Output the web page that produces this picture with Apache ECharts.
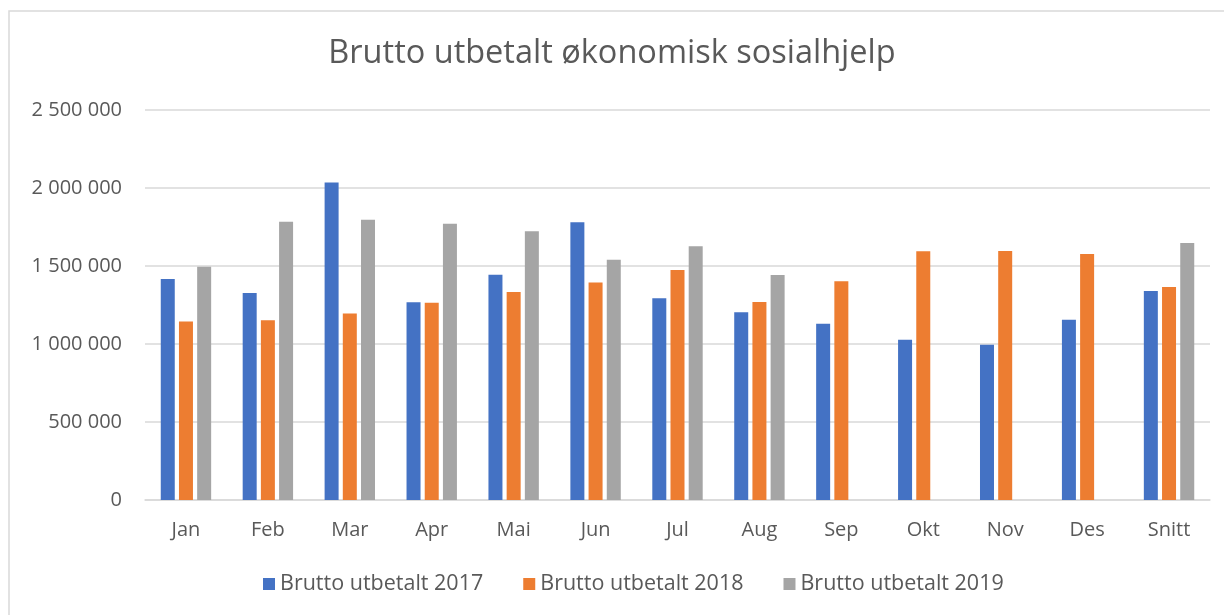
<!DOCTYPE html>
<html>
<head>
<meta charset="utf-8">
<script src="https://cdn.jsdelivr.net/npm/echarts@6/dist/echarts.min.js"></script>
<style>
  html, body { margin: 0; padding: 0; background: #fff; }
  #main { width: 1224px; height: 615px; }
</style>
</head>
<body>
<div id="main"></div>
<script>
var months = ['Jan', 'Feb', 'Mar', 'Apr', 'Mai', 'Jun', 'Jul', 'Aug', 'Sep', 'Okt', 'Nov', 'Des', 'Snitt'];
var brutto2017 = [1416000, 1327000, 2035000, 1267000, 1444000, 1780000, 1293000, 1203000, 1130000, 1027000, 995000, 1155000, 1340000];
var brutto2018 = [1145000, 1153000, 1196000, 1265000, 1333000, 1395000, 1474000, 1269000, 1402000, 1594000, 1596000, 1577000, 1365000];
var brutto2019 = [1495000, 1784000, 1797000, 1771000, 1723000, 1540000, 1626000, 1442000, null, null, null, null, 1648000];
var yTicks = [0, 500000, 1000000, 1500000, 2000000, 2500000];

var myChart = echarts.init(document.getElementById('main'));

// mellomrom som tusenskille
function fmt(v) {
	return String(v).replace(/\B(?=(\d{3})+(?!\d))/g, ' ');
}

var font = 'Open Sans';
var option = {
	backgroundColor : '#fff',
	color : [ '#4472c4', '#ed7d31', '#a5a5a5' ],
	title : {
		text : 'Brutto utbetalt økonomisk sosialhjelp',
		left : 'center',
		top : 32,
		textStyle : {
			fontFamily : font,
			fontSize : 32.5,
			fontWeight : 'normal',
			color : '#595959'
		}
	},
	legend : {
		bottom : 15,
		left : 258,
		itemWidth : 12,
		itemHeight : 12,
		itemGap : 40,
		icon : 'rect',
		textStyle : {
			fontFamily : font,
			fontSize : 21.5,
			color : '#595959'
		},
		data : [ 'Brutto utbetalt 2017', 'Brutto utbetalt 2018', 'Brutto utbetalt 2019' ]
	},
	grid : {
		left : 145,
		right : 14,
		top : 110,
		bottom : 115
	},
	xAxis : {
		type : 'category',
		data : months,
		axisLine : { lineStyle : { color : '#d9d9d9', width : 1.5 } },
		axisTick : { show : false },
		axisLabel : {
			margin : 20,
			fontFamily : font,
			fontSize : 20,
			color : '#595959'
		}
	},
	yAxis : {
		type : 'value',
		min : yTicks[0],
		max : yTicks[yTicks.length - 1],
		interval : 500000,
		axisLine : { show : false },
		axisTick : { show : false },
		splitLine : { lineStyle : { color : '#d9d9d9', width : 1.5 } },
		axisLabel : {
			margin : 23,
			fontFamily : font,
			fontSize : 20,
			color : '#595959',
			formatter : fmt
		}
	},
	series : [ {
		name : 'Brutto utbetalt 2017',
		type : 'bar',
		data : brutto2017,
		barWidth : 14,
		barGap : '30%',
		barCategoryGap : '37%'
	}, {
		name : 'Brutto utbetalt 2018',
		type : 'bar',
		data : brutto2018,
		barWidth : 14
	}, {
		name : 'Brutto utbetalt 2019',
		type : 'bar',
		data : brutto2019,
		barWidth : 14
	} ],
	graphic : [ {
		type : 'rect',
		shape : { x : 9, y : 11, width : 1300, height : 700 },
		style : { fill : 'none', stroke : '#d9d9d9', lineWidth : 1.5 },
		silent : true
	} ]
};
myChart.setOption(option);
</script>
</body>
</html>
